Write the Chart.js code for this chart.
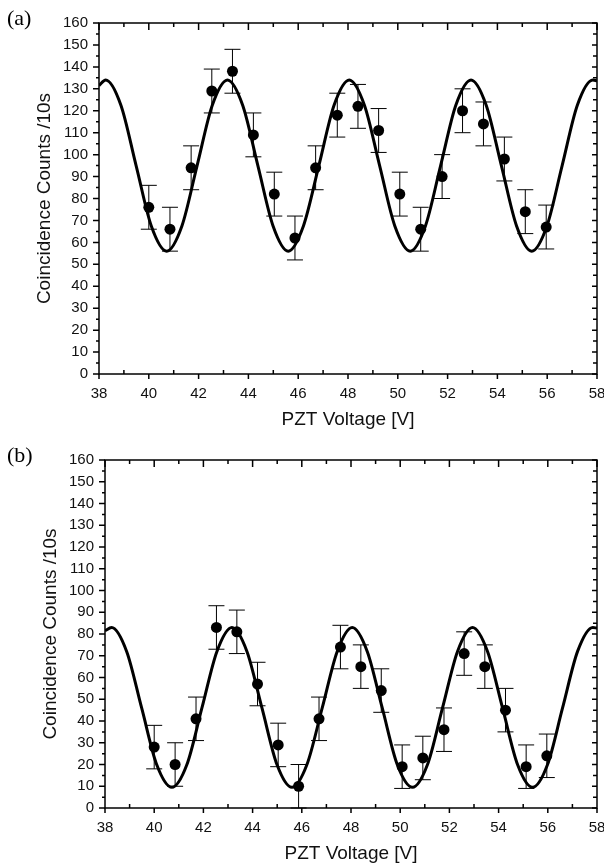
<!DOCTYPE html>
<html lang="en">
<head>
<meta charset="UTF-8">
<script src="https://cdn.jsdelivr.net/npm/chart.js"></script>
<title>Coincidence counts vs PZT voltage</title>
<style>
    body { margin: 0; background: #fff; }
    .panel { position: absolute; left: 0; width: 604px; }
    .tag { position: absolute; left: 7px; font-family: "Liberation Serif", "DejaVu Serif", serif; font-size: 22px; color: #000; }
</style>
</head>
<body>
<div class="panel" style="top:0;height:432px"><canvas id="chartA"></canvas></div>
<div class="panel" style="top:432px;height:433px"><canvas id="chartB"></canvas></div>
<div class="tag" style="top:5px">(a)</div>
<div class="tag" style="top:442px">(b)</div>
<script>
// measured points (same voltages for both panels)
var voltage = [40.0, 40.85, 41.7, 42.53, 43.36, 44.2, 45.04, 45.87, 46.7, 47.57, 48.4, 49.23, 50.08, 50.92, 51.78, 52.6, 53.44, 54.28, 55.12, 55.96];
var countsA = [76, 66, 94, 129, 138, 109, 82, 62, 94, 118, 122, 111, 82, 66, 90, 120, 114, 98, 74, 67];
var countsB = [28, 20, 41, 83, 81, 57, 29, 10, 41, 74, 65, 54, 19, 23, 36, 71, 65, 45, 19, 24];
var errA = [10, 10, 10, 10, 10, 10, 10, 10, 10, 10, 10, 10, 10, 10, 10, 10, 10, 10, 10, 10];
var errB = [10, 10, 10, 10, 10, 10, 10, 10, 10, 10, 10, 10, 10, 10, 10, 10, 10, 10, 10, 10];

// fitted curves
var fitVolt = [38.0, 38.27, 38.88, 39.49, 40.1, 40.72, 41.33, 41.94, 42.55, 43.16, 43.77, 44.38, 44.99, 45.6, 46.21, 46.83, 47.44, 48.05, 48.66, 49.27, 49.88, 50.5, 51.11, 51.72, 52.33, 52.94, 53.55, 54.16, 54.77, 55.38, 55.99, 56.6, 57.21, 57.83, 58.0];
var fitA = [131.5, 134, 122.5, 95, 67.5, 56, 67.5, 95, 122.5, 134, 122.5, 95, 67.5, 56, 67.5, 95, 122.5, 134, 122.5, 95, 67.5, 56, 67.5, 95, 122.5, 134, 122.5, 95, 67.5, 56, 67.5, 95, 122.5, 134, 133.6];
var fitB = [81.5, 83, 72, 46, 20, 9.5, 20, 46, 72, 83, 72, 46, 20, 9.5, 20, 46, 72, 83, 72, 46, 20, 9.5, 20, 46, 72, 83, 72, 46, 20, 9.5, 20, 46, 72, 83, 82.7];

var xTicks = [38, 40, 42, 44, 46, 48, 50, 52, 54, 56, 58];
var yMax = 160;

function pairs(xs, ys) {
    return xs.map(function (x, i) { return { x: x, y: ys[i] }; });
}

// frame + inward/outward tick marks like the original plot
var framePlugin = {
    id: 'frame',
    afterDatasetsDraw: function (chart) {
        var ctx = chart.ctx, a = chart.chartArea;
        var xs = chart.scales.x, ys = chart.scales.y;
        ctx.save();
        ctx.strokeStyle = '#000';
        ctx.lineWidth = 1.5;
        ctx.strokeRect(a.left, a.top, a.right - a.left, a.bottom - a.top);
        ctx.beginPath();
        for (var v = 38; v <= 58; v++) {
            var px = xs.getPixelForValue(v);
            var major = v % 2 == 0;
            // bottom
            if (major) { ctx.moveTo(px, a.bottom); ctx.lineTo(px, a.bottom + 5); }
            else { ctx.moveTo(px, a.bottom); ctx.lineTo(px, a.bottom - 4); }
            // top
            ctx.moveTo(px, a.top); ctx.lineTo(px, a.top + (major ? 7 : 4));
        }
        for (var c = 0; c <= yMax; c += 5) {
            var py = ys.getPixelForValue(c);
            var maj = c % 10 == 0;
            ctx.moveTo(a.left, py); ctx.lineTo(a.left - (maj ? 6 : 3), py);
            ctx.moveTo(a.right, py); ctx.lineTo(a.right - (maj ? 5 : 4), py);
        }
        ctx.stroke();
        ctx.restore();
    }
};

// error bars drawn from the data through the scales
var errorBarPlugin = {
    id: 'errbars',
    beforeDatasetsDraw: function (chart) {
        var ctx = chart.ctx, xs = chart.scales.x, ys = chart.scales.y;
        var pts = chart.data.datasets[1].data;
        var errs = chart.options.plugins.errbars.err;
        ctx.save();
        ctx.strokeStyle = '#000';
        ctx.lineWidth = 1;
        ctx.beginPath();
        pts.forEach(function (p, i) {
            var px = xs.getPixelForValue(p.x);
            var lo = ys.getPixelForValue(p.y - errs[i]);
            var hi = ys.getPixelForValue(p.y + errs[i]);
            ctx.moveTo(px, lo); ctx.lineTo(px, hi);
            ctx.moveTo(px - 8, lo); ctx.lineTo(px + 8, lo);
            ctx.moveTo(px - 8, hi); ctx.lineTo(px + 8, hi);
        });
        ctx.stroke();
        ctx.restore();
    }
};

function makeChart(id, counts, errs, fit, cfg) {
    var ctx = document.getElementById(id).getContext('2d');
    return new Chart(ctx, {
        type: 'scatter',
        data: {
            datasets: [
                { label: 'fit', data: pairs(fitVolt, fit), showLine: true, borderColor: '#000', borderWidth: 3,
                  pointRadius: 0, cubicInterpolationMode: 'monotone', fill: false },
                { label: 'data', data: pairs(voltage, counts), pointRadius: 5.5, pointBackgroundColor: '#000',
                  pointBorderColor: '#000', pointBorderWidth: 0 }
            ]
        },
        options: {
            responsive: true,
            maintainAspectRatio: false,
            animation: false,
            layout: { padding: { left: 0, right: 7, top: cfg.top, bottom: 0 } },
            plugins: { legend: { display: false }, tooltip: { enabled: false }, errbars: { err: errs } },
            scales: {
                x: {
                    type: 'linear', min: 38, max: 58,
                    afterBuildTicks: function (s) { s.ticks = xTicks.map(function (v) { return { value: v }; }); },
                    grid: { display: false, drawTicks: false },
                    border: { display: false },
                    ticks: { color: '#111', font: { family: 'Liberation Sans, Arial, sans-serif', size: 15 }, padding: 11, maxRotation: 0 },
                    title: { display: true, text: 'PZT Voltage [V]', color: '#111',
                             font: { family: 'Liberation Sans, Arial, sans-serif', size: 19 }, padding: { top: 0, bottom: cfg.xtp } },
                    afterFit: function (s) { s.height = cfg.xh; s.paddingLeft = 0; s.paddingRight = 0; }
                },
                y: {
                    min: 0, max: yMax,
                    grid: { display: false, drawTicks: false },
                    border: { display: false },
                    ticks: { stepSize: 10, color: '#111', font: { family: 'Liberation Sans, Arial, sans-serif', size: 15 }, padding: 11 },
                    title: { display: true, text: 'Coincidence Counts /10s', color: '#111',
                             font: { family: 'Liberation Sans, Arial, sans-serif', size: 19 }, padding: { top: cfg.ytp, bottom: 0 } },
                    afterFit: function (s) { s.width = cfg.yw; s.paddingTop = 0; s.paddingBottom = 0; }
                }
            }
        },
        plugins: [errorBarPlugin, framePlugin]
    });
}

makeChart('chartA', countsA, errA, fitA, { top: 23, xh: 58, yw: 99, xtp: 1, ytp: 33 });
makeChart('chartB', countsB, errB, fitB, { top: 28, xh: 57, yw: 105, xtp: 0, ytp: 39 });
</script>
</body>
</html>
